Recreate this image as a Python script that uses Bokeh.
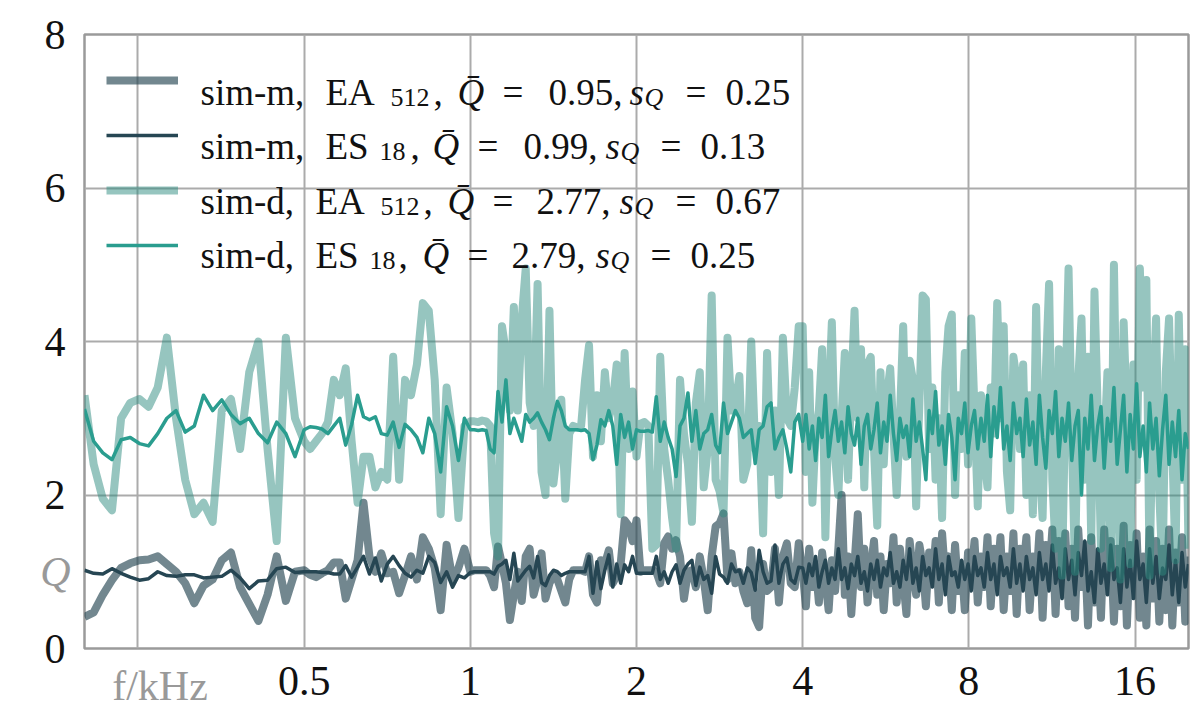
import numpy as np
from bokeh.plotting import figure
from bokeh.models import (FixedTicker, CustomJSTickFormatter, Label, Legend,
                          LegendItem, Range1d, LinearAxis, LogAxis)
from bokeh.embed import file_html
from bokeh.resources import INLINE

# ---------------- data ----------------
# frequency sampling (kHz): four log-spaced bands
band_edges_khz = [0.2, 0.5, 1.0, 4.0, 20.0]
band_points = [24, 28, 84, 120]

# sim-m, EA512
q_ea_m = [
    0.41, 0.47, 0.7, 0.89, 1.05, 1.11, 1.15, 1.16, 1.2, 1.1, 1.0, 0.85, 0.59, 0.82, 0.9, 1.15,
    1.25, 0.8, 0.58, 0.36, 0.7, 1.2, 0.62, 1.0,
    1.02, 0.96, 0.93, 0.98, 1.02, 1.12, 1.12, 0.65, 0.9, 1.15, 1.9, 1.2, 1.0, 1.24, 0.98, 1.0,
    0.72, 0.95, 1.2, 0.9, 1.45, 1.3, 1.05, 0.5, 1.35, 0.9, 1.05, 1.3,
    1.0, 1.02, 1.02, 1.02, 1.02, 0.95, 0.8, 1.33, 1.1, 0.85,
    0.37, 0.7, 1.0, 0.62, 1.2, 1.3, 0.7, 0.9, 1.24, 0.65,
    0.85, 0.95, 0.9, 0.75, 0.6, 0.9, 1.02, 1.02, 1.02, 1.0,
    1.2, 0.7, 0.6, 1.15, 1.1, 1.28, 0.85, 0.95, 1.1, 1.67,
    1.6, 1.4, 1.67, 1.0, 1.02, 1.02, 1.02, 1.0, 0.85, 1.37,
    1.46, 1.3, 1.41, 1.2, 0.65, 1.0, 1.02, 0.8, 1.2, 0.9,
    0.5, 1.2, 1.59, 1.63, 1.76, 0.9, 1.24, 0.85, 1.0, 0.75,
    0.59, 1.28, 0.4, 0.28, 1.1, 0.75, 0.8, 1.3, 0.6, 1.2,
    1.37, 0.85, 0.8, 1.37,
    1.0, 0.55, 1.3, 0.8, 1.1, 0.6, 1.25, 0.9, 0.5, 1.15,
    0.75, 1.3, 2.0, 0.7, 1.2, 0.45, 1.1, 1.75, 0.8, 1.3,
    0.6, 1.05, 1.4, 0.7, 1.2, 0.5, 1.1, 0.85, 1.45, 0.6,
    1.3, 0.9, 0.45, 1.4, 1.0, 0.7, 1.35, 1.1, 0.55, 1.25,
    0.85, 1.4, 0.6, 1.5, 0.9, 1.2, 0.5, 1.35, 0.75, 1.1,
    0.5, 1.25, 0.95, 1.4, 0.6, 1.2, 0.8, 1.45, 0.55, 1.3,
    0.9, 1.45, 0.5, 1.2, 0.75, 1.5, 0.45, 1.3, 1.0, 1.45,
    0.5, 1.2, 0.8, 1.5, 0.4, 1.35, 0.9, 1.55, 0.45, 1.4,
    0.7, 1.5, 0.55, 1.3, 0.4, 1.55, 0.8, 1.35, 0.3, 1.45,
    0.6, 1.25, 0.4, 1.55, 0.75, 1.4, 0.35, 1.3, 0.55, 1.6,
    0.3, 1.35, 0.7, 1.5, 0.4, 1.2, 0.3, 1.55, 0.65, 1.4,
    0.35, 1.3, 0.5, 1.55, 0.3, 1.25, 0.6, 1.45, 0.35, 1.2,
]

# sim-m, ES18
q_es_m = [
    1.02, 0.98, 0.97, 1.04, 0.98, 0.93, 0.89, 0.91, 1.0, 0.95, 0.94, 0.96, 0.96, 0.92, 0.93, 0.94,
    1.02, 0.92, 0.78, 0.88, 0.89, 1.04, 1.06, 0.99,
    1.0, 1.0, 1.0, 0.99, 0.99, 0.97, 0.97, 1.08, 0.93, 1.06, 1.2, 0.97, 1.18, 0.88, 1.1, 1.2,
    1.08, 0.98, 0.93, 1.02, 0.98, 1.2, 1.12, 0.86, 1.0, 0.8, 0.95, 0.92,
    0.99, 1.0, 1.0, 1.0, 1.0, 1.0, 0.97, 1.07, 1.1, 1.15,
    0.9, 1.24, 0.88, 0.95, 1.02, 1.07, 0.92, 1.2, 0.86, 0.82,
    0.95, 1.02, 1.0, 0.95, 0.98, 1.0, 1.0, 1.0, 1.0, 1.0,
    1.2, 0.72, 1.13, 0.78, 1.02, 1.22, 0.8, 1.1, 0.85, 1.09,
    1.0, 1.2, 0.98, 0.98, 0.98, 0.98, 0.98, 1.2, 0.9, 1.0,
    0.85, 1.0, 1.09, 0.85, 1.02, 1.1, 1.15, 0.82, 1.06, 0.9,
    0.95, 0.72, 1.2, 0.97, 0.93, 0.85, 1.1, 1.0, 1.02, 0.85,
    1.05, 0.99, 0.76, 1.28, 1.0, 0.85, 0.88, 1.35, 0.85, 1.1,
    1.18, 0.9, 0.85, 1.06,
    1.05, 0.85, 1.1, 0.95, 1.2, 0.8, 1.0, 1.15, 0.85, 1.05,
    0.9, 1.3, 0.9, 1.05, 0.78, 1.1, 0.95, 1.2, 0.85, 1.0,
    0.75, 1.1, 0.9, 1.15, 0.8, 1.05, 0.95, 1.25, 0.85, 1.0,
    0.8, 1.15, 0.9, 1.3, 0.85, 1.05, 0.75, 1.2, 0.95, 1.05,
    0.8, 1.3, 0.9, 1.1, 0.7, 1.2, 0.95, 1.0, 0.8, 1.15,
    0.9, 1.1, 0.75, 1.2, 0.95, 1.05, 0.8, 1.25, 0.9, 1.1,
    0.7, 1.2, 0.95, 1.05, 0.8, 1.3, 0.85, 1.1, 0.75, 1.2,
    0.9, 1.05, 0.7, 1.25, 0.9, 1.1, 0.75, 1.35, 0.85, 1.05,
    0.65, 1.3, 0.9, 1.15, 0.7, 1.25, 0.95, 1.4, 0.75, 1.0,
    0.6, 1.3, 0.85, 1.1, 0.7, 1.35, 0.9, 1.05, 0.6, 1.3,
    0.8, 1.15, 0.65, 1.4, 0.9, 1.1, 0.6, 1.3, 0.85, 1.2,
    0.65, 1.05, 0.9, 1.35, 0.7, 1.15, 0.6, 1.25, 0.8, 1.1,
]

# sim-d, EA512
q_ea_d = [
    3.3, 2.4, 1.95, 1.8, 3.0, 3.2, 3.25, 3.15, 3.4, 4.05, 3.0, 2.2, 1.75, 1.9, 1.65, 3.1,
    3.25, 2.6, 3.6, 4.0, 2.6, 1.4, 4.05, 3.0,
    2.7, 2.6, 2.7, 2.8, 2.95, 3.5, 3.3, 3.65, 2.7, 1.9, 2.5, 2.5, 2.1, 2.3, 2.2, 3.8,
    2.2, 3.5, 3.3, 3.7, 4.5, 4.4, 3.5, 1.75, 3.4, 2.8, 1.7, 2.9,
    2.96, 2.96, 2.95, 2.97, 2.96, 2.9, 1.5, 1.2, 4.2, 3.85,
    3.1, 4.45, 3.1, 4.3, 4.95, 3.2, 2.9, 4.75, 2.3, 2.0,
    4.4, 2.15, 2.6, 3.24, 1.95, 2.8, 2.9, 2.88, 2.9, 3.5,
    3.95, 2.5, 3.3, 2.7, 3.6, 3.0, 3.2, 3.7, 1.75, 3.85,
    2.6, 3.35, 2.5, 2.93, 2.95, 2.9, 1.3, 1.35, 3.8, 2.6,
    2.2, 1.7, 1.3, 3.5, 2.8, 2.4, 1.65, 3.2, 3.6, 2.1,
    2.6, 4.6, 2.2, 2.05, 1.76, 4.05, 3.1, 3.2, 3.55, 2.2,
    2.4, 4.0, 2.6, 2.9, 1.5, 3.85, 2.3, 3.1, 2.0, 4.05,
    3.0, 2.9, 3.4, 4.2,
    4.2, 2.3, 3.6, 1.9, 2.8, 3.1, 3.9, 1.45, 3.2, 4.25,
    2.5, 2.0, 3.0, 3.85, 2.2, 3.4, 4.4, 3.0, 3.9, 2.1,
    3.7, 3.8, 2.6, 1.6, 3.6, 2.4, 3.3, 3.65, 2.8, 2.0,
    3.0, 4.2, 2.5, 3.75, 3.5, 1.85, 3.2, 4.6, 4.55, 2.6,
    3.4, 2.2, 3.0, 1.7, 3.6, 4.2, 4.35, 2.0, 3.3, 2.6,
    3.85, 2.4, 4.3, 3.1, 1.85, 3.3, 2.5, 2.1, 3.4, 2.8,
    4.5, 3.0, 4.2, 2.3, 1.8, 3.8, 3.5, 2.6, 3.7, 2.0,
    3.3, 1.75, 4.45, 2.4, 1.7, 3.6, 4.75, 2.2, 1.3, 3.9,
    0.95, 3.2, 4.95, 2.8, 1.0, 3.5, 4.3, 2.2, 3.8, 1.4,
    4.65, 3.1, 1.3, 2.6, 3.6, 1.05, 5.0, 2.4, 0.9, 4.25,
    3.0, 1.1, 3.7, 2.2, 4.95, 3.4, 4.8, 0.95, 3.2, 4.3,
    2.0, 1.0, 3.6, 4.3, 2.6, 1.15, 4.35, 2.2, 3.9, 1.3,
]

# sim-d, ES18
q_es_d = [
    3.12, 2.7, 2.55, 2.46, 2.72, 2.75, 2.67, 2.64, 2.8, 3.0, 3.1, 2.82, 2.9, 3.3, 3.1, 3.24,
    3.05, 2.93, 3.0, 2.8, 2.68, 2.95, 2.8, 2.5,
    2.85, 2.89, 2.88, 2.86, 2.8, 2.9, 3.0, 2.65, 2.92, 3.3, 3.02, 2.98, 3.02, 2.8, 2.78, 2.95,
    2.62, 2.92, 2.85, 2.75, 2.55, 3.0, 2.8, 2.3, 3.15, 2.9, 2.45, 3.0,
    2.85, 2.85, 2.84, 2.85, 2.84, 2.6, 2.55, 3.35, 2.95, 3.5,
    2.8, 3.0, 2.85, 2.7, 3.05, 2.95, 3.0, 3.07, 2.95, 2.85,
    2.72, 3.0, 3.22, 3.1, 2.9, 2.85, 2.85, 2.85, 2.84, 2.85,
    2.8, 2.46, 2.65, 2.98, 2.9, 3.1, 2.9, 2.4, 3.05, 2.75,
    2.95, 2.6, 2.85, 2.83, 2.83, 2.84, 2.82, 3.28, 2.7, 2.95,
    2.75, 2.6, 2.24, 2.9, 3.0, 3.33, 2.7, 3.1, 2.6, 2.8,
    2.85, 3.05, 2.65, 2.55, 3.2, 2.8, 2.95, 3.1, 3.0, 2.75,
    2.8, 2.85, 2.41, 2.85, 2.9, 3.15, 3.2, 2.6, 2.75, 2.85,
    2.6, 2.3, 2.95, 3.05,
    2.7, 3.05, 2.6, 2.9, 2.45, 3.0, 2.75, 3.3, 2.5, 2.85,
    3.1, 2.7, 2.95, 2.55, 3.15, 2.8, 2.65, 3.0, 2.4, 2.9,
    3.05, 2.6, 2.85, 3.2, 2.55, 2.95, 2.7, 3.3, 2.8, 2.45,
    3.0, 2.75, 2.9, 2.5, 3.25, 2.7, 2.95, 2.6, 2.2, 3.1,
    2.8, 3.35, 2.65, 2.9, 2.4, 3.05, 2.75, 2.2, 3.0, 2.8,
    3.2, 2.55, 2.9, 3.1, 2.6, 3.0, 2.7, 3.3, 2.5, 3.15,
    2.75, 3.4, 2.6, 2.9, 2.45, 3.2, 2.8, 3.0, 2.5, 3.25,
    2.65, 2.95, 2.4, 3.3, 2.75, 2.35, 3.1, 2.8, 3.35, 2.5,
    3.0, 2.7, 3.2, 2.45, 2.9, 3.1, 2.0, 3.0, 2.6, 3.3,
    2.45, 2.9, 3.15, 2.35, 3.0, 2.7, 3.4, 2.4, 2.85, 3.3,
    2.3, 3.05, 2.6, 3.45, 2.5, 2.9, 2.3, 3.2, 2.6, 3.0,
    2.25, 2.85, 3.3, 2.4, 2.95, 2.5, 3.1, 2.2, 2.8, 2.6,
]

x_ticks = [0.25, 0.5, 1, 2, 4, 8, 16]
y_ticks = [0, 2, 4, 6, 8]

series_labels = [
    # (text, page-x, kind) kind: n normal, s subscript, i italic, is italic subscript
    [("sim-m,", 200, "n"), ("EA", 325, "n"), ("512", 390, "s"), (",", 433, "n"),
     ("Q\u0304", 457, "i"), ("=", 502, "n"), ("0.95,", 548, "n"), ("s", 629, "i"),
     ("Q", 644, "is"), ("=", 685, "n"), ("0.25", 725, "n")],
    [("sim-m,", 200, "n"), ("ES", 325, "n"), ("18", 379, "s"), (",", 410, "n"),
     ("Q\u0304", 432, "i"), ("=", 477, "n"), ("0.99,", 523, "n"), ("s", 605, "i"),
     ("Q", 620, "is"), ("=", 660, "n"), ("0.13", 700, "n")],
    [("sim-d,", 200, "n"), ("EA", 315, "n"), ("512", 380, "s"), (",", 423, "n"),
     ("Q\u0304", 447, "i"), ("=", 492, "n"), ("2.77,", 536, "n"), ("s", 619, "i"),
     ("Q", 634, "is"), ("=", 675, "n"), ("0.67", 715, "n")],
    [("sim-d,", 200, "n"), ("ES", 315, "n"), ("18", 369, "s"), (",", 398, "n"),
     ("Q\u0304", 422, "i"), ("=", 467, "n"), ("2.79,", 511, "n"), ("s", 595, "i"),
     ("Q", 610, "is"), ("=", 650, "n"), ("0.25", 690, "n")],
]

# ---------------- build ----------------
parts = []
for k, (lo, hi, n) in enumerate(zip(band_edges_khz[:-1], band_edges_khz[1:], band_points)):
    parts.append(np.geomspace(lo, hi, n, endpoint=(k == len(band_points) - 1)))
freq = np.concatenate(parts)

FONT = "Liberation Serif"
GREY = "#999999"
FRAME_L, FRAME_B = 84, 648   # page pixels of frame left / bottom
TICK_PX = 42
X_STANDOFF, Y_STANDOFF = 12, 13

p = figure(width=1196, height=711, x_axis_type="log",
           x_range=Range1d(0.2, 20), y_range=Range1d(0, 8),
           output_backend="svg", toolbar_location=None,
           min_border_left=84, min_border_right=8, min_border_top=34, min_border_bottom=63)
p.background_fill_color = "white"
p.border_fill_color = "white"
p.outline_line_color = "#9a9a9a"
p.outline_line_width = 2.5

r1 = p.line(freq, q_ea_m, line_color="#264653", line_alpha=0.65, line_width=8, line_join="round")
r2 = p.line(freq, q_es_m, line_color="#264653", line_alpha=1.0, line_width=3.5, line_join="round")
r3 = p.line(freq, q_ea_d, line_color="#2e8b80", line_alpha=0.5, line_width=8, line_join="round")
r4 = p.line(freq, q_es_d, line_color="#2a9d8f", line_alpha=1.0, line_width=3.5, line_join="round")

p.xaxis.ticker = FixedTicker(ticks=x_ticks)
p.xaxis.formatter = CustomJSTickFormatter(code="return tick == 0.25 ? '' : String(tick);")
p.yaxis.ticker = FixedTicker(ticks=y_ticks)


def style_axis(ax, color="#111111", italic=False):
    ax.axis_line_color = None
    ax.major_tick_line_color = None
    ax.minor_tick_line_color = None
    ax.major_label_text_font = FONT
    ax.major_label_text_font_size = f"{TICK_PX}px"
    ax.major_label_text_color = color
    if italic:
        ax.major_label_text_font_style = "italic"


style_axis(p.xaxis[0])
style_axis(p.yaxis[0])
p.xaxis.major_label_standoff = X_STANDOFF
p.yaxis.major_label_standoff = Y_STANDOFF
for g in (p.xgrid[0], p.ygrid[0]):
    g.grid_line_color = "#ababab"
    g.grid_line_width = 2
    g.minor_grid_line_color = None

# grey captions: extra axes stacked outside the main ones, pulled back with negative standoff
q_axis = LinearAxis(ticker=FixedTicker(ticks=[1]),
                    formatter=CustomJSTickFormatter(code="return 'Q';"),
                    major_label_standoff=-35)
style_axis(q_axis, GREY, italic=True)
p.add_layout(q_axis, "left")

fk_axis = LogAxis(ticker=FixedTicker(ticks=[0.274]),
                  formatter=CustomJSTickFormatter(code="return 'f/kHz';"),
                  major_label_standoff=-41)
style_axis(fk_axis, GREY)
p.add_layout(fk_axis, "below")

legend = Legend(items=[LegendItem(label=" ", renderers=[r]) for r in (r1, r2, r3, r4)],
                location=(22, 393), orientation="vertical",
                glyph_width=72, glyph_height=20, label_height=20, spacing=35,
                padding=0, margin=0, border_line_color=None,
                background_fill_alpha=0, label_text_font_size="2px", label_standoff=0)
p.add_layout(legend)

baselines = [91.7, 146.2, 200.6, 255.0]
for row, base in zip(series_labels, baselines):
    for text, px, kind in row:
        sub = kind in ("s", "is")
        p.add_layout(Label(
            x=px - FRAME_L, y=FRAME_B - base - (5 if sub else 0),
            x_units="screen", y_units="screen", text=text,
            text_font=FONT, text_font_size="26px" if sub else "37px",
            text_font_style="italic" if kind in ("i", "is") else "normal",
            text_color="#111111", text_align="left", text_baseline="alphabetic"))

open("out.html", "w").write(file_html(p, INLINE))
